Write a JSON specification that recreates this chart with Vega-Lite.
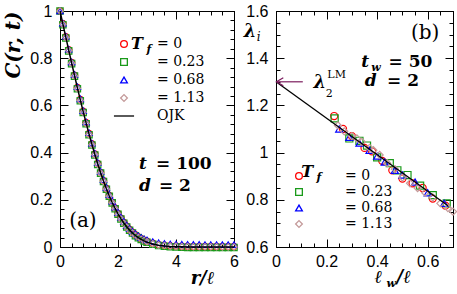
{
"$schema": "https://vega.github.io/schema/vega-lite/v6.json",
"padding": {"left": 2, "top": 2, "right": 1, "bottom": 2},
"background": "white",
"hconcat": [
{
"width": 174, "height": 236,
"data": {"values": [
{"x":0,"T0":1,"T023":1,"T068":1,"T113":1,"o":1},
{"x":0.1,"T0":0.946,"T023":0.942,"T068":0.948,"T113":0.944,"o":0.9445},
{"x":0.2,"T0":0.891,"T023":0.886,"T068":0.893,"T113":0.888,"o":0.8893},
{"x":0.3,"T0":0.836,"T023":0.831,"T068":0.838,"T113":0.833,"o":0.8345},
{"x":0.4,"T0":0.782,"T023":0.777,"T068":0.784,"T113":0.779,"o":0.7802},
{"x":0.5,"T0":0.728,"T023":0.724,"T068":0.731,"T113":0.725,"o":0.7269},
{"x":0.6,"T0":0.676,"T023":0.671,"T068":0.679,"T113":0.672,"o":0.6745},
{"x":0.7,"T0":0.625,"T023":0.620,"T068":0.628,"T113":0.621,"o":0.6235},
{"x":0.8,"T0":0.575,"T023":0.570,"T068":0.578,"T113":0.571,"o":0.5738},
{"x":0.9,"T0":0.527,"T023":0.522,"T068":0.530,"T113":0.523,"o":0.5257},
{"x":1.0,"T0":0.481,"T023":0.476,"T068":0.484,"T113":0.477,"o":0.4794},
{"x":1.1,"T0":0.437,"T023":0.432,"T068":0.440,"T113":0.433,"o":0.4351},
{"x":1.2,"T0":0.394,"T023":0.390,"T068":0.398,"T113":0.391,"o":0.3928},
{"x":1.3,"T0":0.354,"T023":0.350,"T068":0.358,"T113":0.351,"o":0.3527},
{"x":1.4,"T0":0.316,"T023":0.313,"T068":0.320,"T113":0.313,"o":0.3150},
{"x":1.5,"T0":0.281,"T023":0.278,"T068":0.285,"T113":0.278,"o":0.2797},
{"x":1.6,"T0":0.248,"T023":0.245,"T068":0.252,"T113":0.245,"o":0.2468},
{"x":1.7,"T0":0.218,"T023":0.215,"T068":0.222,"T113":0.215,"o":0.2164},
{"x":1.8,"T0":0.190,"T023":0.187,"T068":0.194,"T113":0.187,"o":0.1886},
{"x":1.9,"T0":0.165,"T023":0.162,"T068":0.169,"T113":0.162,"o":0.1633},
{"x":2.0,"T0":0.142,"T023":0.139,"T068":0.146,"T113":0.139,"o":0.1404},
{"x":2.1,"T0":0.122,"T023":0.119,"T068":0.126,"T113":0.119,"o":0.1199},
{"x":2.2,"T0":0.104,"T023":0.101,"T068":0.108,"T113":0.101,"o":0.1016},
{"x":2.3,"T0":0.088,"T023":0.085,"T068":0.092,"T113":0.085,"o":0.0855},
{"x":2.4,"T0":0.074,"T023":0.071,"T068":0.078,"T113":0.071,"o":0.0715},
{"x":2.5,"T0":0.062,"T023":0.059,"T068":0.066,"T113":0.059,"o":0.0593},
{"x":2.6,"T0":0.052,"T023":0.048,"T068":0.056,"T113":0.049,"o":0.0488},
{"x":2.7,"T0":0.043,"T023":0.039,"T068":0.047,"T113":0.040,"o":0.0399},
{"x":2.8,"T0":0.035,"T023":0.032,"T068":0.040,"T113":0.033,"o":0.0324},
{"x":2.9,"T0":0.029,"T023":0.025,"T068":0.034,"T113":0.027,"o":0.0261},
{"x":3.0,"T0":0.024,"T023":0.020,"T068":0.030,"T113":0.022,"o":0.0208},
{"x":3.2,"T0":0.016,"T023":0.012,"T068":0.023,"T113":0.014,"o":0.0130},
{"x":3.4,"T0":0.010,"T023":0.006,"T068":0.018,"T113":0.009,"o":0.0079},
{"x":3.6,"T0":0.007,"T023":0.003,"T068":0.015,"T113":0.006,"o":0.0046},
{"x":3.8,"T0":0.005,"T023":0.001,"T068":0.013,"T113":0.004,"o":0.0026},
{"x":4.0,"T0":0.004,"T023":0.000,"T068":0.012,"T113":0.003,"o":0.0015},
{"x":4.2,"T0":0.003,"T023":-0.001,"T068":0.012,"T113":0.002,"o":0.0008},
{"x":4.4,"T0":0.003,"T023":-0.002,"T068":0.011,"T113":0.002,"o":0.0004},
{"x":4.6,"T0":0.002,"T023":-0.002,"T068":0.011,"T113":0.001,"o":0.0002},
{"x":4.8,"T0":0.002,"T023":-0.002,"T068":0.011,"T113":0.001,"o":0.0001},
{"x":5.0,"T0":0.002,"T023":-0.002,"T068":0.010,"T113":0.001,"o":0},
{"x":5.2,"T0":0.002,"T023":-0.002,"T068":0.010,"T113":0.001,"o":0},
{"x":5.4,"T0":0.002,"T023":-0.002,"T068":0.010,"T113":0.001,"o":0},
{"x":5.6,"T0":0.002,"T023":-0.002,"T068":0.010,"T113":0.000,"o":0},
{"x":5.8,"T0":0.002,"T023":-0.002,"T068":0.010,"T113":0.000,"o":0},
{"x":6.0,"T0":0.002,"T023":-0.002,"T068":0.010,"T113":0.000,"o":0}
]},
"resolve": {"axis": {"x": "independent", "y": "independent"}},
"layer": [
{
"transform": [{"fold": ["T0","T023","T068","T113"], "as": ["T","C"]}],
"mark": {"type": "point", "filled": false, "size": 40, "strokeWidth": 1.2, "opacity": 1},
"encoding": {
"x": {"field": "x", "type": "quantitative", "scale": {"domain": [0, 6], "nice": false, "zero": false},
"axis": {"orient": "bottom", "values": [0,0.4,0.8,1.2,1.6,2,2.4,2.8,3.2,3.6,4,4.4,4.8,5.2,5.6,6],
"labelExpr": "abs(datum.value/2-round(datum.value/2))<0.001 ? format(datum.value,'~g') : ''",
"tickSize": {"condition": {"test": "abs(datum.value/2-round(datum.value/2))<0.001", "value": -8}, "value": -4},
"labelPadding": 14, "title": "r/ℓ", "titleFont": "DejaVu Serif", "titleFontStyle": "italic", "titleFontWeight": "bold", "titleFontSize": 18,
"titleX": 142, "titleY": 31, "titleAlign": "center", "titleBaseline": "middle"}},
"y": {"field": "C", "type": "quantitative", "scale": {"domain": [0, 1], "nice": false, "zero": false},
"axis": {"orient": "left", "values": [0,0.04,0.08,0.12,0.16,0.2,0.24,0.28,0.32,0.36,0.4,0.44,0.48,0.52,0.56,0.6,0.64,0.68,0.72,0.76,0.8,0.84,0.88,0.92,0.96,1],
"labelExpr": "abs(datum.value*5-round(datum.value*5))<0.001 ? format(datum.value,'~g') : ''",
"tickSize": {"condition": {"test": "abs(datum.value*5-round(datum.value*5))<0.001", "value": -8}, "value": -4},
"labelPadding": 16, "title": "C(r, t)", "titleFont": "DejaVu Serif", "titleFontStyle": "italic", "titleFontWeight": "bold", "titleFontSize": 20,
"titleAngle": -90, "titleX": -47, "titleY": 0, "titleAlign": "right", "titleBaseline": "middle"}},
"color": {"field": "T", "type": "nominal",
"scale": {"domain": ["T0","T023","T068","T113","OJK"], "range": ["#ff0000","#1a9a1a","#0000ff","#c49a9a","#000000"]},
"legend": {"title": null, "orient": "none", "legendX": 57, "legendY": 26, "padding": 0, "offset": 0,
"labelExpr": "datum.value=='T0' ? '\u00a0\u00a0= 0' : datum.value=='T023' ? '\u00a0\u00a0= 0.23' : datum.value=='T068' ? '\u00a0\u00a0= 0.68' : datum.value=='T113' ? '\u00a0\u00a0= 1.13' : 'OJK'",
"labelFont": "DejaVu Serif", "labelFontSize": 14, "labelColor": "black", "labelOffset": 26, "symbolSize": 45, "symbolStrokeWidth": 1.3, "rowPadding": 4}},
"shape": {"field": "T", "type": "nominal",
"scale": {"domain": ["T0","T023","T068","T113","OJK"], "range": ["circle","square","triangle-up","diamond","M-3,0L3,0"]},
"legend": {"title": null, "orient": "none", "legendX": 57, "legendY": 26, "padding": 0, "offset": 0,
"labelExpr": "datum.value=='T0' ? '\u00a0\u00a0= 0' : datum.value=='T023' ? '\u00a0\u00a0= 0.23' : datum.value=='T068' ? '\u00a0\u00a0= 0.68' : datum.value=='T113' ? '\u00a0\u00a0= 1.13' : 'OJK'",
"labelFont": "DejaVu Serif", "labelFontSize": 14, "labelColor": "black", "labelOffset": 26, "symbolSize": 45, "symbolStrokeWidth": 1.3, "rowPadding": 4}}
}
},
{
"mark": {"type": "line", "color": "black", "strokeWidth": 1.5},
"encoding": {
"x": {"field": "x", "type": "quantitative",
"axis": {"orient": "top", "values": [0,0.4,0.8,1.2,1.6,2,2.4,2.8,3.2,3.6,4,4.4,4.8,5.2,5.6,6], "labels": false, "title": null,
"tickSize": {"condition": {"test": "abs(datum.value/2-round(datum.value/2))<0.001", "value": -8}, "value": -4}}},
"y": {"field": "o", "type": "quantitative",
"axis": {"orient": "right", "values": [0,0.04,0.08,0.12,0.16,0.2,0.24,0.28,0.32,0.36,0.4,0.44,0.48,0.52,0.56,0.6,0.64,0.68,0.72,0.76,0.8,0.84,0.88,0.92,0.96,1], "labels": false, "title": null,
"tickSize": {"condition": {"test": "abs(datum.value*5-round(datum.value*5))<0.001", "value": -8}, "value": -4}}}
}
},
{"data": {"values": [{}]}, "mark": {"type": "text", "text": "(a)", "font": "DejaVu Serif", "fontSize": 20, "align": "center", "baseline": "middle"},
"encoding": {"x": {"datum": 0.79, "type": "quantitative", "axis": null}, "y": {"datum": 0.11, "type": "quantitative", "axis": null}}},
{"data": {"values": [{}]}, "mark": {"type": "text", "text": "t", "font": "DejaVu Serif", "fontSize": 17, "fontStyle": "italic", "fontWeight": "bold", "align": "left", "baseline": "middle"},
"encoding": {"x": {"datum": 2.72, "type": "quantitative", "axis": null}, "y": {"datum": 0.352, "type": "quantitative", "axis": null}}},
{"data": {"values": [{}]}, "mark": {"type": "text", "text": "= 100", "font": "DejaVu Serif", "fontSize": 17, "fontWeight": "bold", "align": "left", "baseline": "middle"},
"encoding": {"x": {"datum": 3.31, "type": "quantitative", "axis": null}, "y": {"datum": 0.352, "type": "quantitative", "axis": null}}},
{"data": {"values": [{}]}, "mark": {"type": "text", "text": "d", "font": "DejaVu Serif", "fontSize": 17, "fontStyle": "italic", "fontWeight": "bold", "align": "left", "baseline": "middle"},
"encoding": {"x": {"datum": 2.72, "type": "quantitative", "axis": null}, "y": {"datum": 0.258, "type": "quantitative", "axis": null}}},
{"data": {"values": [{}]}, "mark": {"type": "text", "text": "= 2", "font": "DejaVu Serif", "fontSize": 17, "fontWeight": "bold", "align": "left", "baseline": "middle"},
"encoding": {"x": {"datum": 3.41, "type": "quantitative", "axis": null}, "y": {"datum": 0.258, "type": "quantitative", "axis": null}}},
{"data": {"values": [{}]}, "mark": {"type": "text", "text": "T", "font": "DejaVu Serif", "fontSize": 16, "fontStyle": "italic", "fontWeight": "bold", "align": "left", "baseline": "middle"},
"encoding": {"x": {"datum": 2.45, "type": "quantitative", "axis": null}, "y": {"datum": 0.86, "type": "quantitative", "axis": null}}},
{"data": {"values": [{}]}, "mark": {"type": "text", "text": "f", "font": "DejaVu Serif", "fontSize": 11, "fontStyle": "italic", "fontWeight": "bold", "align": "left", "baseline": "middle"},
"encoding": {"x": {"datum": 2.98, "type": "quantitative", "axis": null}, "y": {"datum": 0.836, "type": "quantitative", "axis": null}}}
]
},
{
"width": 177, "height": 236,
"data": {"values": [
{"T":"T0","x":0.23,"y":1.155},{"T":"T0","x":0.265,"y":1.10},{"T":"T0","x":0.30,"y":1.07},{"T":"T0","x":0.35,"y":1.02},{"T":"T0","x":0.38,"y":1.005},{"T":"T0","x":0.42,"y":0.965},{"T":"T0","x":0.46,"y":0.925},{"T":"T0","x":0.50,"y":0.89},{"T":"T0","x":0.54,"y":0.87},{"T":"T0","x":0.58,"y":0.85},{"T":"T0","x":0.62,"y":0.805},{"T":"T0","x":0.67,"y":0.775},
{"T":"T023","x":0.232,"y":1.145},{"T":"T023","x":0.29,"y":1.06},{"T":"T023","x":0.33,"y":1.05},{"T":"T023","x":0.36,"y":1.03},{"T":"T023","x":0.40,"y":0.98},{"T":"T023","x":0.45,"y":0.955},{"T":"T023","x":0.48,"y":0.925},{"T":"T023","x":0.52,"y":0.905},{"T":"T023","x":0.57,"y":0.86},{"T":"T023","x":0.62,"y":0.82},{"T":"T023","x":0.675,"y":0.785},
{"T":"T068","x":0.25,"y":1.10},{"T":"T068","x":0.29,"y":1.065},{"T":"T068","x":0.33,"y":1.04},{"T":"T068","x":0.37,"y":1.01},{"T":"T068","x":0.40,"y":0.985},{"T":"T068","x":0.43,"y":0.96},{"T":"T068","x":0.47,"y":0.925},{"T":"T068","x":0.50,"y":0.905},{"T":"T068","x":0.55,"y":0.875},{"T":"T068","x":0.60,"y":0.83},{"T":"T068","x":0.665,"y":0.785},
{"T":"T113","x":0.245,"y":1.115},{"T":"T113","x":0.27,"y":1.09},{"T":"T113","x":0.30,"y":1.07},{"T":"T113","x":0.32,"y":1.06},{"T":"T113","x":0.34,"y":1.045},{"T":"T113","x":0.37,"y":1.02},{"T":"T113","x":0.385,"y":1.01},{"T":"T113","x":0.41,"y":0.99},{"T":"T113","x":0.44,"y":0.955},{"T":"T113","x":0.47,"y":0.93},{"T":"T113","x":0.50,"y":0.895},{"T":"T113","x":0.53,"y":0.87},{"T":"T113","x":0.56,"y":0.85},{"T":"T113","x":0.59,"y":0.83},{"T":"T113","x":0.62,"y":0.81},{"T":"T113","x":0.65,"y":0.785},{"T":"T113","x":0.68,"y":0.765},{"T":"T113","x":0.70,"y":0.75}
]},
"resolve": {"axis": {"x": "independent", "y": "independent"}},
"layer": [
{
"mark": {"type": "point", "filled": false, "size": 50, "strokeWidth": 1.2, "opacity": 1},
"encoding": {
"x": {"field": "x", "type": "quantitative", "scale": {"domain": [0, 0.7], "nice": false, "zero": false},
"axis": {"orient": "bottom", "values": [0,0.05,0.1,0.15,0.2,0.25,0.3,0.35,0.4,0.45,0.5,0.55,0.6,0.65,0.7],
"labelExpr": "abs(datum.value*5-round(datum.value*5))<0.001 ? format(datum.value,'~g') : ''",
"tickSize": {"condition": {"test": "abs(datum.value*5-round(datum.value*5))<0.001", "value": -8}, "value": -4},
"labelPadding": 14, "title": null}},
"y": {"field": "y", "type": "quantitative", "scale": {"domain": [0.6, 1.6], "nice": false, "zero": false},
"axis": {"orient": "left", "values": [0.6,0.65,0.7,0.75,0.8,0.85,0.9,0.95,1,1.05,1.1,1.15,1.2,1.25,1.3,1.35,1.4,1.45,1.5,1.55,1.6],
"labelExpr": "abs(datum.value*5-round(datum.value*5))<0.001 ? format(datum.value,'~g') : ''",
"tickSize": {"condition": {"test": "abs(datum.value*5-round(datum.value*5))<0.001", "value": -8}, "value": -4},
"labelPadding": 16, "title": null}},
"color": {"field": "T", "type": "nominal",
"scale": {"domain": ["T0","T023","T068","T113"], "range": ["#ff0000","#1a9a1a","#0000ff","#c49a9a"]},
"legend": {"title": null, "orient": "none", "legendX": 16, "legendY": 158, "padding": 0, "offset": 0,
"labelExpr": "datum.value=='T0' ? '= 0' : datum.value=='T023' ? '= 0.23' : datum.value=='T068' ? '= 0.68' : '= 1.13'",
"labelFont": "DejaVu Serif", "labelFontSize": 14, "labelColor": "black", "labelOffset": 39, "symbolSize": 45, "symbolStrokeWidth": 1.3, "rowPadding": 2}},
"shape": {"field": "T", "type": "nominal",
"scale": {"domain": ["T0","T023","T068","T113"], "range": ["circle","square","triangle-up","diamond"]},
"legend": {"title": null, "orient": "none", "legendX": 16, "legendY": 158, "padding": 0, "offset": 0,
"labelExpr": "datum.value=='T0' ? '= 0' : datum.value=='T023' ? '= 0.23' : datum.value=='T068' ? '= 0.68' : '= 1.13'",
"labelFont": "DejaVu Serif", "labelFontSize": 14, "labelColor": "black", "labelOffset": 39, "symbolSize": 45, "symbolStrokeWidth": 1.3, "rowPadding": 2}}
}
},
{
"data": {"values": [{"x": 0, "y": 1.30}, {"x": 0.68, "y": 0.775}]},
"mark": {"type": "line", "color": "black", "strokeWidth": 1.3},
"encoding": {
"x": {"field": "x", "type": "quantitative",
"axis": {"orient": "top", "values": [0,0.05,0.1,0.15,0.2,0.25,0.3,0.35,0.4,0.45,0.5,0.55,0.6,0.65,0.7], "labels": false, "title": null,
"tickSize": {"condition": {"test": "abs(datum.value*5-round(datum.value*5))<0.001", "value": -8}, "value": -4}}},
"y": {"field": "y", "type": "quantitative",
"axis": {"orient": "right", "values": [0.6,0.65,0.7,0.75,0.8,0.85,0.9,0.95,1,1.05,1.1,1.15,1.2,1.25,1.3,1.35,1.4,1.45,1.5,1.55,1.6], "labels": false, "title": null,
"tickSize": {"condition": {"test": "abs(datum.value*5-round(datum.value*5))<0.001", "value": -8}, "value": -4}}}
}
},
{"data": {"values": [{}]}, "mark": {"type": "rule", "color": "#7b1c5e", "strokeWidth": 1.2},
"encoding": {"x": {"datum": 0.106, "type": "quantitative", "axis": null}, "x2": {"datum": 0.002}, "y": {"datum": 1.30, "type": "quantitative", "axis": null}}},
{"data": {"values": [{}]}, "mark": {"type": "point", "shape": "M1.7,-1L0,0L1.7,1", "filled": false, "size": 64, "color": "#7b1c5e", "strokeWidth": 1.2, "opacity": 1},
"encoding": {"x": {"datum": 0.002, "type": "quantitative", "axis": null}, "y": {"datum": 1.30, "type": "quantitative", "axis": null}}},
{"data": {"values": [{}]}, "mark": {"type": "text", "text": "λ", "font": "DejaVu Serif", "fontSize": 18, "fontStyle": "italic", "fontWeight": "bold", "align": "left", "baseline": "middle"},
"encoding": {"x": {"datum": 0.148, "type": "quantitative", "axis": null}, "y": {"datum": 1.293, "type": "quantitative", "axis": null}}},
{"data": {"values": [{}]}, "mark": {"type": "text", "text": "2", "font": "DejaVu Serif", "fontSize": 11, "align": "left", "baseline": "middle"},
"encoding": {"x": {"datum": 0.197, "type": "quantitative", "axis": null}, "y": {"datum": 1.25, "type": "quantitative", "axis": null}}},
{"data": {"values": [{}]}, "mark": {"type": "text", "text": "LM", "font": "DejaVu Serif", "fontSize": 11, "align": "left", "baseline": "middle"},
"encoding": {"x": {"datum": 0.203, "type": "quantitative", "axis": null}, "y": {"datum": 1.33, "type": "quantitative", "axis": null}}},
{"data": {"values": [{}]}, "mark": {"type": "text", "text": "(b)", "font": "DejaVu Serif", "fontSize": 20, "align": "center", "baseline": "middle"},
"encoding": {"x": {"datum": 0.59, "type": "quantitative", "axis": null}, "y": {"datum": 1.505, "type": "quantitative", "axis": null}}},
{"data": {"values": [{}]}, "mark": {"type": "text", "text": "t", "font": "DejaVu Serif", "fontSize": 17, "fontStyle": "italic", "fontWeight": "bold", "align": "left", "baseline": "middle"},
"encoding": {"x": {"datum": 0.337, "type": "quantitative", "axis": null}, "y": {"datum": 1.385, "type": "quantitative", "axis": null}}},
{"data": {"values": [{}]}, "mark": {"type": "text", "text": "w", "font": "DejaVu Serif", "fontSize": 11, "fontStyle": "italic", "fontWeight": "bold", "align": "left", "baseline": "middle"},
"encoding": {"x": {"datum": 0.377, "type": "quantitative", "axis": null}, "y": {"datum": 1.36, "type": "quantitative", "axis": null}}},
{"data": {"values": [{}]}, "mark": {"type": "text", "text": "= 50", "font": "DejaVu Serif", "fontSize": 17, "fontWeight": "bold", "align": "left", "baseline": "middle"},
"encoding": {"x": {"datum": 0.445, "type": "quantitative", "axis": null}, "y": {"datum": 1.385, "type": "quantitative", "axis": null}}},
{"data": {"values": [{}]}, "mark": {"type": "text", "text": "d", "font": "DejaVu Serif", "fontSize": 17, "fontStyle": "italic", "fontWeight": "bold", "align": "left", "baseline": "middle"},
"encoding": {"x": {"datum": 0.351, "type": "quantitative", "axis": null}, "y": {"datum": 1.302, "type": "quantitative", "axis": null}}},
{"data": {"values": [{}]}, "mark": {"type": "text", "text": "= 2", "font": "DejaVu Serif", "fontSize": 17, "fontWeight": "bold", "align": "left", "baseline": "middle"},
"encoding": {"x": {"datum": 0.439, "type": "quantitative", "axis": null}, "y": {"datum": 1.302, "type": "quantitative", "axis": null}}},
{"data": {"values": [{}]}, "mark": {"type": "text", "text": "λ", "font": "DejaVu Serif", "fontSize": 18, "fontStyle": "italic", "fontWeight": "bold", "align": "left", "baseline": "middle"},
"encoding": {"x": {"datum": -0.128, "type": "quantitative", "axis": null}, "y": {"datum": 1.513, "type": "quantitative", "axis": null}}},
{"data": {"values": [{}]}, "mark": {"type": "text", "text": "i", "font": "DejaVu Serif", "fontSize": 12, "fontStyle": "italic", "align": "left", "baseline": "middle"},
"encoding": {"x": {"datum": -0.076, "type": "quantitative", "axis": null}, "y": {"datum": 1.488, "type": "quantitative", "axis": null}}},
{"data": {"values": [{}]}, "mark": {"type": "text", "text": "ℓ", "font": "DejaVu Serif", "fontSize": 18, "fontStyle": "italic", "fontWeight": "bold", "align": "left", "baseline": "middle"},
"encoding": {"x": {"datum": 0.39, "type": "quantitative", "axis": null}, "y": {"datum": 0.467, "type": "quantitative", "axis": null}}},
{"data": {"values": [{}]}, "mark": {"type": "text", "text": "w", "font": "DejaVu Serif", "fontSize": 11, "fontStyle": "italic", "fontWeight": "bold", "align": "left", "baseline": "middle"},
"encoding": {"x": {"datum": 0.437, "type": "quantitative", "axis": null}, "y": {"datum": 0.443, "type": "quantitative", "axis": null}}},
{"data": {"values": [{}]}, "mark": {"type": "text", "text": "/ℓ", "font": "DejaVu Serif", "fontSize": 18, "fontStyle": "italic", "fontWeight": "bold", "align": "left", "baseline": "middle"},
"encoding": {"x": {"datum": 0.477, "type": "quantitative", "axis": null}, "y": {"datum": 0.467, "type": "quantitative", "axis": null}}},
{"data": {"values": [{}]}, "mark": {"type": "text", "text": "T", "font": "DejaVu Serif", "fontSize": 16, "fontStyle": "italic", "fontWeight": "bold", "align": "left", "baseline": "middle"},
"encoding": {"x": {"datum": 0.10, "type": "quantitative", "axis": null}, "y": {"datum": 0.916, "type": "quantitative", "axis": null}}},
{"data": {"values": [{}]}, "mark": {"type": "text", "text": "f", "font": "DejaVu Serif", "fontSize": 11, "fontStyle": "italic", "fontWeight": "bold", "align": "left", "baseline": "middle"},
"encoding": {"x": {"datum": 0.16, "type": "quantitative", "axis": null}, "y": {"datum": 0.894, "type": "quantitative", "axis": null}}}
]
}
],
"spacing": 42,
"bounds": "flush",
"resolve": {"scale": {"x": "independent", "y": "independent", "color": "independent", "shape": "independent"}, "legend": {"color": "independent", "shape": "independent"}},
"config": {
"view": {"stroke": "black", "strokeWidth": 1},
"axis": {"domainColor": "black", "tickColor": "black", "labelColor": "black", "labelFont": "Liberation Sans", "labelFontSize": 16, "grid": false, "labelFlush": false, "labelOverlap": false, "tickWidth": 1, "domainWidth": 1, "titleColor": "black"},
"text": {"color": "black"}
}
}
